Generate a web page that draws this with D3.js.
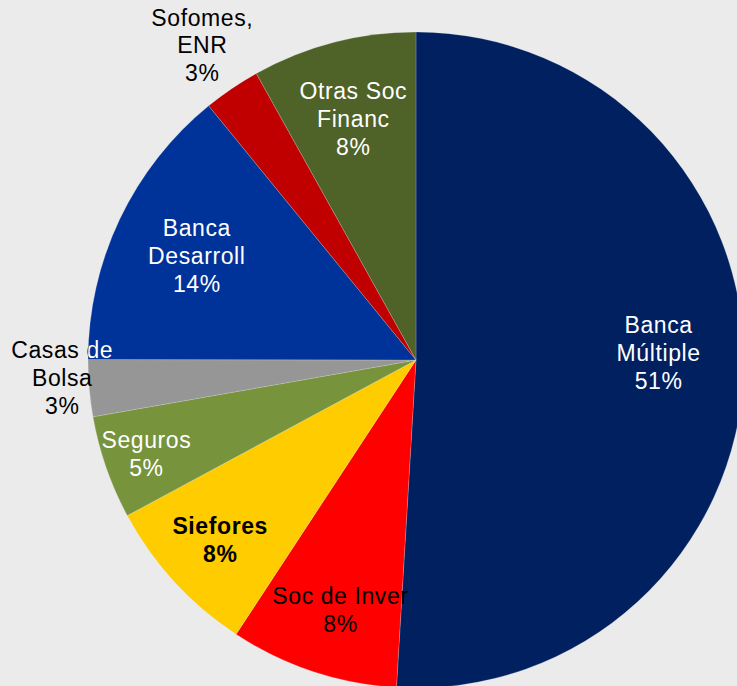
<!DOCTYPE html>
<html>
<head>
<meta charset="utf-8">
<script src="https://cdn.jsdelivr.net/npm/d3@7"></script>
<style>
  html, body { margin: 0; padding: 0; background: #EBEBEB; }
  svg { display: block; }
  text { font-family: "Liberation Sans", Arial, sans-serif; }
</style>
</head>
<body>
<svg id="chart" width="737" height="686"></svg>
<script>
// Data (clockwise from 12 o'clock)
const categories = ["Banca Múltiple", "Soc de Inver", "Siefores", "Seguros", "Casas de Bolsa", "Banca Desarroll", "Sofomes, ENR", "Otras Soc Financ"];
const labelLines = [["Banca", "Múltiple"], ["Soc de Inver"], ["Siefores"], ["Seguros"], ["Casas de", "Bolsa"], ["Banca", "Desarroll"], ["Sofomes,", "ENR"], ["Otras Soc", "Financ"]];
const values = [51.0, 8.3, 7.9, 5.1, 2.8, 14.1, 2.8, 8.1];

// Styles / layout
const colors = ["#002060", "#FF0000", "#FFCC00", "#77933C", "#969696", "#003399", "#C00000", "#4F6228"];
const textColors = ["#FFFFFF", "#000000", "#000000", "#FFFFFF", "#000000", "#FFFFFF", "#000000", "#FFFFFF"];
const textWeights = ["normal", "normal", "bold", "normal", "normal", "normal", "normal", "normal"];
const labelRadiusFrac = [0.74, 0.795, 0.81, 0.87, 1.08, 0.74, 1.16, 0.76];
const labelAngleAdj = [-3.4, -1.5, 0, 0, 2.1, 0, 0, 0]; // degrees

const width = 737, height = 686;
const cx = 416, cy = 360, R = 328;
const fontSize = 23, lineH = 27.8;

const svg = d3.select("#chart");
const g = svg.append("g").attr("transform", `translate(${cx},${cy})`);

const total = d3.sum(values);
const pie = d3.pie().sort(null).value(d => d)(values);
const arc = d3.arc().innerRadius(0).outerRadius(R);

const defs = svg.append("defs");

g.selectAll("path.slice")
  .data(pie)
  .join("path")
  .attr("class", "slice")
  .attr("d", arc)
  .attr("fill", (d, i) => colors[i])
  .attr("stroke", "#EBEBEB")
  .attr("stroke-opacity", 0.35)
  .attr("stroke-width", 0.6);

pie.forEach((d, i) => {
  defs.append("clipPath").attr("id", "clip" + i)
    .append("path").attr("d", arc(d)).attr("transform", `translate(${cx},${cy})`);
});

function drawLabel(parent, d, i, fill) {
  const a = (d.startAngle + d.endAngle) / 2 + labelAngleAdj[i] * Math.PI / 180;
  const r = R * labelRadiusFrac[i];
  const x = r * Math.sin(a), y = -r * Math.cos(a);
  const pct = Math.round(values[i] / total * 100) + "%";
  const lines = labelLines[i].concat([pct]);
  const t = parent.append("text")
    .attr("text-anchor", "middle")
    .attr("font-size", fontSize)
    .attr("font-weight", textWeights[i])
    .attr("letter-spacing", "0.6px")
    .attr("fill", fill);
  const y0 = y - (lines.length - 1) * lineH / 2;
  lines.forEach((ln, k) => {
    t.append("tspan").attr("x", x).attr("y", y0 + k * lineH).attr("dy", "0.36em").text(ln);
  });
}

const labelsG = g.append("g");
pie.forEach((d, i) => drawLabel(labelsG, d, i, textColors[i]));

// Outside label portion over the Banca Desarroll slice shows in white
const overlay = svg.append("g").attr("clip-path", "url(#clip5)")
  .append("g").attr("transform", `translate(${cx},${cy})`);
drawLabel(overlay, pie[4], 4, "#FFFFFF");
</script>
</body>
</html>
